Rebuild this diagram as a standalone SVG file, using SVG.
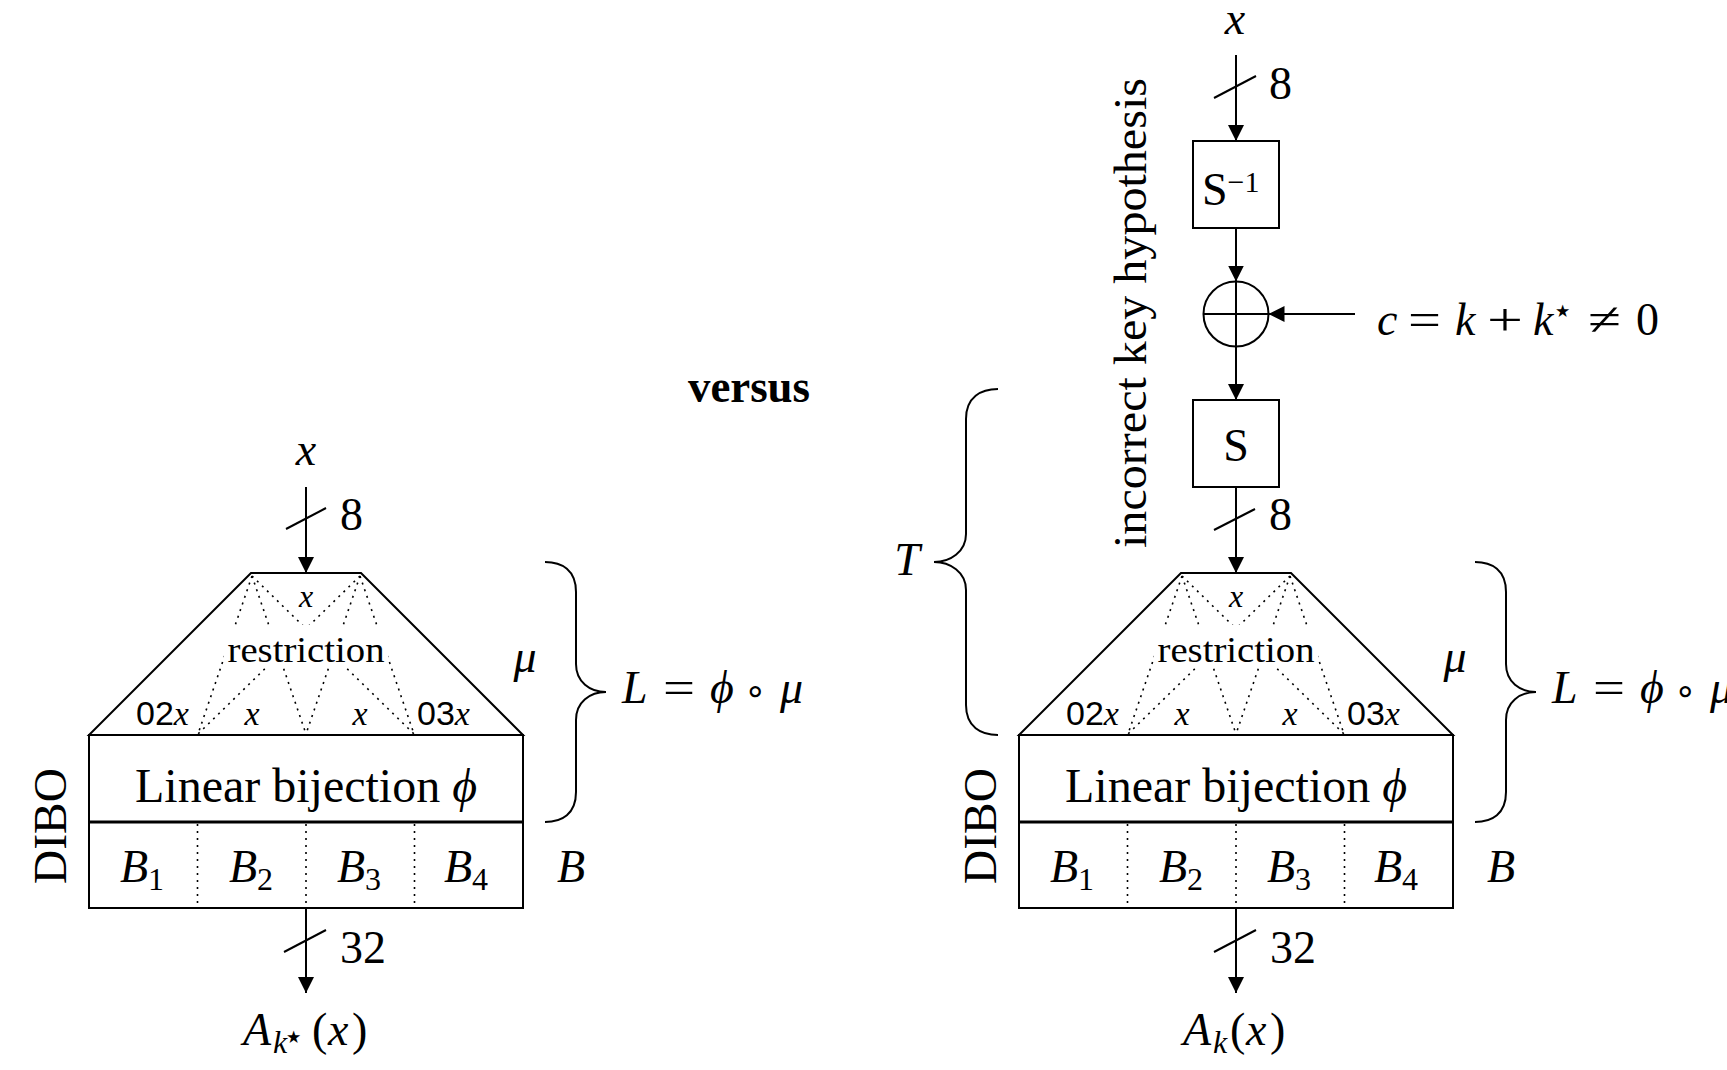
<svg xmlns="http://www.w3.org/2000/svg" width="1727" height="1070" viewBox="0 0 1727 1070">
<style>
.ln{stroke:#000;stroke-width:2;fill:none}
.thick{stroke:#000;stroke-width:3;fill:none}
.dot{stroke:#000;stroke-width:1.6;fill:none;stroke-dasharray:2 5}
.t{font-family:"Liberation Serif","Times New Roman",serif;font-size:46px;fill:#000}
.i{font-style:italic}
.s{font-size:32px}
.sf{font-family:"Liberation Sans",Arial,sans-serif;font-size:34px}
.m{text-anchor:middle}
.star{font-family:"DejaVu Sans",sans-serif;font-size:34px}
</style>
<defs>
<marker id="ah" viewBox="0 0 16 16" refX="16" refY="8" markerWidth="16" markerHeight="16" markerUnits="userSpaceOnUse" orient="auto"><path d="M0,0 L16,8 L0,16 z" fill="#000"/></marker>
<g id="dibo">
<path class="ln" d="M251,573 L361,573 L523,735 L89,735 Z"/>
<path class="dot" d="M252,576 L198,734 M252,576 L306,734 M252,576 L414,734 M360,576 L414,734 M360,576 L306,734 M360,576 L198,734"/>
<rect x="224" y="625" width="164" height="43" fill="#fff"/>
<text class="t i m" x="306" y="607" style="font-size:32px">x</text>
<text class="t m" x="306" y="662" style="font-size:36px" textLength="157" lengthAdjust="spacingAndGlyphs">restriction</text>
<text class="t" x="136" y="725"><tspan class="sf">02</tspan><tspan class="i" style="font-size:34px">x</tspan></text>
<text class="t i m" x="252" y="725" style="font-size:34px">x</text>
<text class="t i m" x="360" y="725" style="font-size:34px">x</text>
<text class="t" x="417" y="725"><tspan class="sf">03</tspan><tspan class="i" style="font-size:34px">x</tspan></text>
<rect class="ln" x="89" y="735" width="434" height="173"/>
<line class="thick" x1="89" y1="822" x2="523" y2="822"/>
<path class="dot" d="M197.5,824 V908 M306,824 V908 M414.5,824 V908"/>
<text class="t m" x="306" y="802" style="font-size:48px">Linear bijection <tspan class="i">ϕ</tspan></text>
<text class="t i" x="120" y="882">B<tspan class="s" style="font-style:normal" dy="8">1</tspan></text>
<text class="t i" x="229" y="882">B<tspan class="s" style="font-style:normal" dy="8">2</tspan></text>
<text class="t i" x="337" y="882">B<tspan class="s" style="font-style:normal" dy="8">3</tspan></text>
<text class="t i" x="444" y="882">B<tspan class="s" style="font-style:normal" dy="8">4</tspan></text>
<text class="t" transform="translate(66,826) rotate(-90)" text-anchor="middle" textLength="116" lengthAdjust="spacingAndGlyphs">DIBO</text>
<text class="t i" x="557" y="882">B</text>
<text class="t i m" x="525" y="672">μ</text>
<path class="ln" d="M545,562 C562,562 576,570 576,592 L576,664 C576,682 590,692 606,692 C590,692 576,702 576,720 L576,792 C576,814 562,822 545,822"/>
<text class="t i" x="622" y="703">L</text>
<text class="t" x="663" y="703" textLength="32" lengthAdjust="spacingAndGlyphs">=</text>
<text class="t i" x="710" y="703">ϕ</text>
<text class="t" x="744" y="703" style="font-family:'DejaVu Sans',sans-serif;font-size:36px">∘</text>
<text class="t i" x="780" y="703">μ</text>
</g>
</defs>

<g id="left-dibo"><use href="#dibo"/></g>
<g id="left-input">
<text class="t i m" x="306" y="465">x</text>
<text class="t" x="340" y="530">8</text>
</g>
<g id="left-output">
<text class="t" x="340" y="963">32</text>
<text class="t i" x="243" y="1045">A</text>
<text class="t i s" x="273" y="1053">k</text>
<text class="t star" x="283" y="1048">⋆</text>
<text class="t" x="312" y="1045">(</text>
<text class="t i" x="328" y="1045">x</text>
<text class="t" x="352" y="1045">)</text>
</g>

<g id="versus"><text class="t m" x="749" y="402" style="font-weight:bold" textLength="122" lengthAdjust="spacingAndGlyphs">versus</text></g>

<g id="right-dibo"><use href="#dibo" transform="translate(930,0)"/></g>
<g id="right-input">
<text class="t i m" x="1235" y="34">x</text>
<text class="t" x="1269" y="99">8</text>
</g>
<g id="sinv">
<rect class="ln" x="1193" y="141" width="86" height="87"/>
<text class="t" x="1202" y="205">S<tspan style="font-size:30px" dy="-13">−1</tspan></text>
</g>
<g id="xor">
<circle class="ln" cx="1236" cy="314" r="32.5"/>
<line class="ln" x1="1203.5" y1="314" x2="1268.5" y2="314"/>
</g>
<g id="key">
<text class="t i" x="1377" y="335">c</text>
<text class="t" x="1408" y="335" textLength="33" lengthAdjust="spacingAndGlyphs">=</text>
<text class="t i" x="1455" y="335">k</text>
<text class="t" x="1487" y="335" textLength="36" lengthAdjust="spacingAndGlyphs">+</text>
<text class="t i" x="1533" y="335">k</text>
<text class="t star" x="1552" y="322">⋆</text>
<text class="t" x="1588" y="335" textLength="33" lengthAdjust="spacingAndGlyphs">≠</text>
<text class="t" x="1636" y="335">0</text>
</g>
<g id="sbox">
<rect class="ln" x="1193" y="400" width="86" height="87"/>
<text class="t m" x="1236" y="461">S</text>
</g>
<g id="right-labels">
<text class="t" x="1269" y="530">8</text>
<text class="t" transform="translate(1146,313) rotate(-90)" text-anchor="middle" textLength="470" lengthAdjust="spacingAndGlyphs">incorrect key hypothesis</text>
<text class="t i m" x="907" y="575">T</text>
<text class="t" x="1270" y="963">32</text>
<text class="t i" x="1183" y="1045">A</text>
<text class="t i s" x="1213" y="1053">k</text>
<text class="t" x="1230" y="1045">(</text>
<text class="t i" x="1246" y="1045">x</text>
<text class="t" x="1270" y="1045">)</text>
</g>

<g id="connectors">
<line class="ln" x1="306" y1="487" x2="306" y2="573" marker-end="url(#ah)"/>
<line class="ln" x1="286" y1="529" x2="326" y2="508"/>
<line class="ln" x1="306" y1="908" x2="306" y2="993" marker-end="url(#ah)"/>
<line class="ln" x1="284" y1="952" x2="326" y2="930"/>
<line class="ln" x1="1236" y1="55" x2="1236" y2="141" marker-end="url(#ah)"/>
<line class="ln" x1="1214" y1="98" x2="1256" y2="76"/>
<line class="ln" x1="1236" y1="228" x2="1236" y2="281.5" marker-end="url(#ah)"/>
<line class="ln" x1="1236" y1="281.5" x2="1236" y2="400" marker-end="url(#ah)"/>
<line class="ln" x1="1355" y1="314" x2="1268.5" y2="314" marker-end="url(#ah)"/>
<line class="ln" x1="1236" y1="487" x2="1236" y2="573" marker-end="url(#ah)"/>
<line class="ln" x1="1214" y1="530" x2="1255" y2="509"/>
<line class="ln" x1="1236" y1="908" x2="1236" y2="993" marker-end="url(#ah)"/>
<line class="ln" x1="1214" y1="952" x2="1256" y2="930"/>
<path class="ln" d="M998,389 C981,389 966,397 966,419 L966,534 C966,552 950,562 934,562 C950,562 966,572 966,590 L966,705 C966,727 981,735 998,735"/>
</g>
</svg>
